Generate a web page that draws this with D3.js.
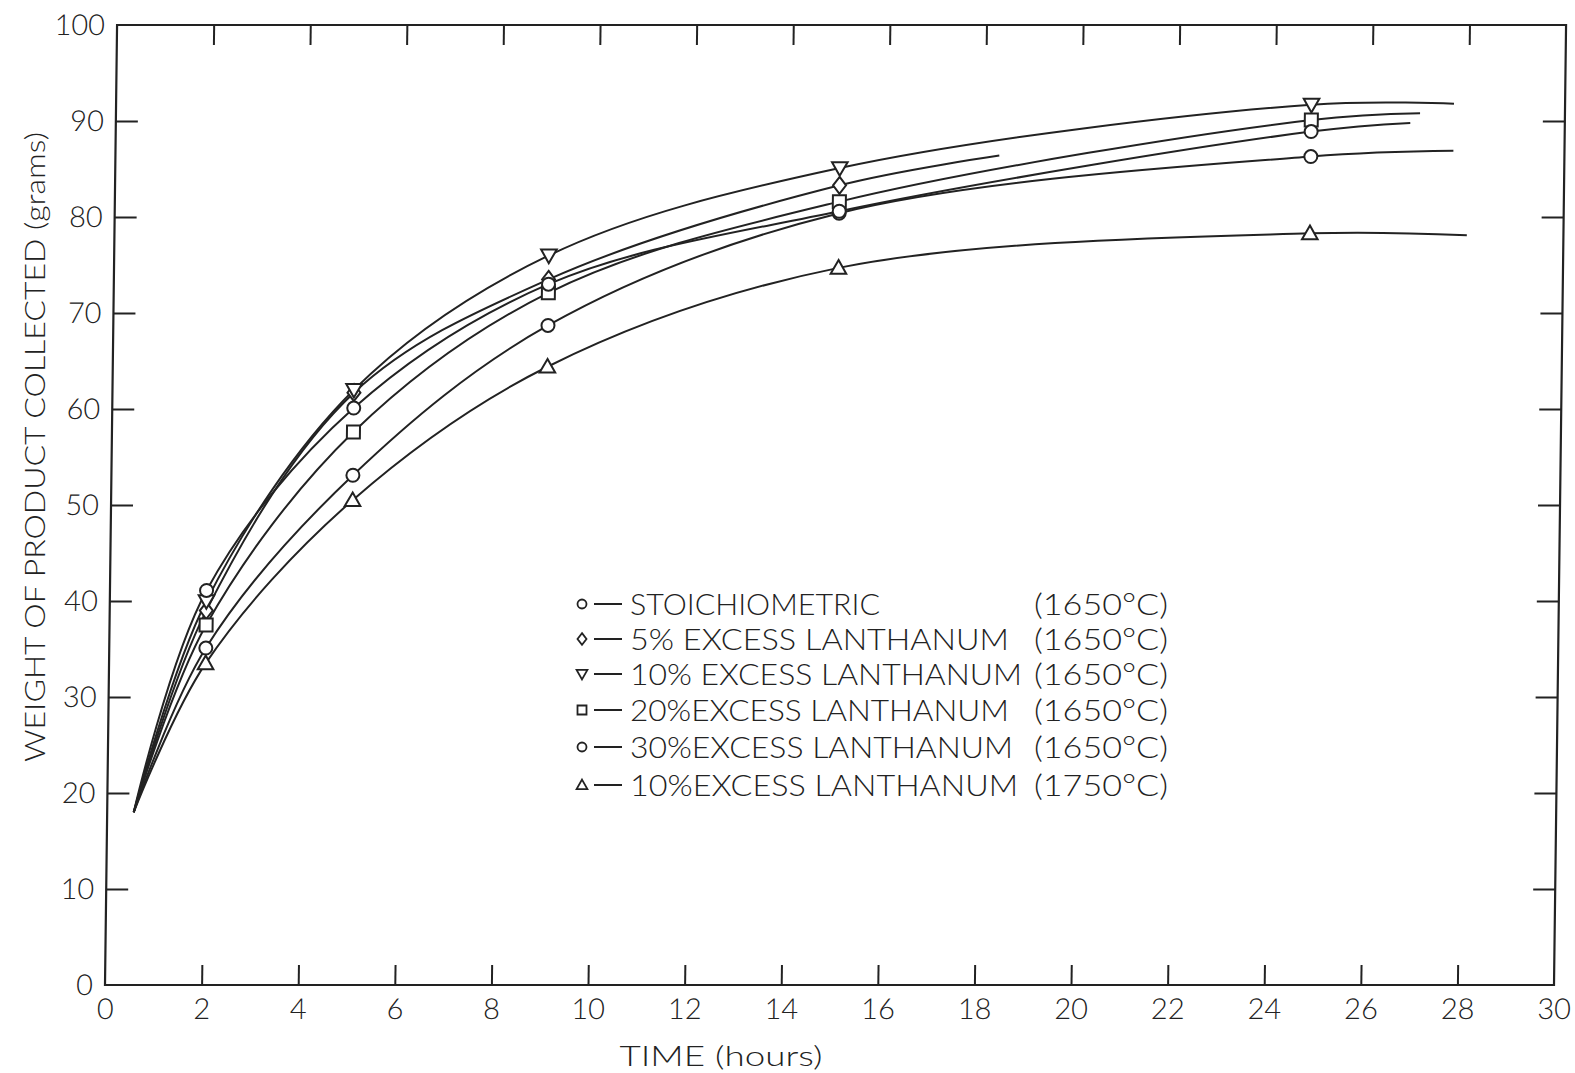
<!DOCTYPE html>
<html>
<head>
<meta charset="utf-8">
<script src="https://cdn.jsdelivr.net/npm/d3@7"></script>
<style>
  body { margin: 0; background: #fff; }
  svg { display: block; }
  text { font-family: Lato, "Open Sans", sans-serif; font-weight: 300; fill: #222; }
</style>
</head>
<body>
<script>
// time of each sample (hours)
var times = [2, 5, 9, 15, 24.75];

var seriesNames = ["STOICHIOMETRIC", "5% EXCESS LANTHANUM", "10% EXCESS LANTHANUM",
                   "20%EXCESS LANTHANUM", "30%EXCESS LANTHANUM", "10%EXCESS LANTHANUM"];
var seriesTemps = ["(1650\u00b0C)", "(1650\u00b0C)", "(1650\u00b0C)", "(1650\u00b0C)", "(1650\u00b0C)", "(1750\u00b0C)"];
var seriesSymbols = ["circle", "diamond", "tridown", "square", "circle", "triangle"];

// weight collected (grams) at each time; null = no point
var stoich   = [35.1, 53.1, 68.7, 80.4, 86.3];
var excess5  = [39.0, 61.7, 73.5, 83.3, null];
var excess10 = [40.0, 62.0, 76.0, 85.1, 91.7];
var excess20 = [37.5, 57.6, 72.1, 81.6, 90.1];
var excess30 = [41.1, 60.1, 73.0, 80.6, 88.9];
var excess10hot = [33.5, 50.5, 64.4, 74.7, 78.3];

// fitted curves: common start and read end point of each curve
var curveStart = [0.55, 18];
var curveEnds = [[27.7, 86.9], [18.3, 86.4], [27.7, 91.8], [27.0, 90.8], [26.8, 89.8], [28.0, 78.1]];

var xTicks = d3.range(0, 31, 2);
var yTicks = d3.range(0, 101, 10);

var allSeries = [stoich, excess5, excess10, excess20, excess30, excess10hot];

var width = 1575, height = 1073;
var pLeft = 105, pRight = 1554, pTop = 25, pBottom = 985;

var svg = d3.select("body").append("svg")
    .attr("width", width).attr("height", height);

var x = d3.scaleLinear().domain([0, 30]).range([pLeft, pRight]);
var y = d3.scaleLinear().domain([0, 100]).range([pBottom, pTop]);

// the scanned frame leans a little; shear the plot to follow it
var plot = svg.append("g")
    .attr("transform", "translate(0," + pBottom + ") skewX(-0.72) translate(0," + (-pBottom) + ")");

var ink = "#222";

plot.append("rect")
    .attr("x", pLeft).attr("y", pTop)
    .attr("width", pRight - pLeft).attr("height", pBottom - pTop)
    .attr("fill", "none").attr("stroke", ink).attr("stroke-width", 2.2);

var xAxis = plot.append("g")
    .attr("transform", "translate(0," + pBottom + ")")
    .call(d3.axisBottom(x).tickValues(xTicks).tickSize(-20).tickSizeOuter(0).tickPadding(13)
      .tickFormat(function(d) { return d; }));
var xTop = plot.append("g")
    .attr("transform", "translate(0," + pTop + ")")
    .call(d3.axisTop(x).tickValues(xTicks.slice(1, -1)).tickSize(-20).tickSizeOuter(0).tickFormat(""));
var yAxis = plot.append("g")
    .attr("transform", "translate(" + pLeft + ",0)")
    .call(d3.axisLeft(y).tickValues(yTicks).tickSize(-22).tickSizeOuter(0).tickPadding(12));
var yRight = plot.append("g")
    .attr("transform", "translate(" + pRight + ",0)")
    .call(d3.axisRight(y).tickValues(yTicks.slice(1, -1)).tickSize(-22).tickSizeOuter(0).tickFormat(""));

[xAxis, xTop, yAxis, yRight].forEach(function(a) {
  a.select(".domain").remove();
  a.selectAll(".tick line").attr("stroke", ink).attr("stroke-width", 2);
  a.selectAll(".tick text").attr("font-size", 29).attr("fill", ink)
    .attr("font-family", "Lato, 'Open Sans', sans-serif").attr("font-weight", 300);
});
// the 0 ticks sit on the frame corner
xAxis.selectAll(".tick line").filter(function(d) { return d == 0 || d == 30; }).remove();
yAxis.selectAll(".tick line").filter(function(d) { return d == 0 || d == 100; }).remove();

var line = d3.line()
    .x(function(d) { return x(d[0]); })
    .y(function(d) { return y(d[1]); })
    .curve(d3.curveCatmullRom.alpha(0.5));

allSeries.forEach(function(vals, i) {
  var pts = [curveStart];
  for (var j = 0; j < times.length; j++) {
    if (vals[j] != null) pts.push([times[j], vals[j]]);
  }
  pts.push(curveEnds[i]);
  plot.append("path")
    .attr("d", line(pts))
    .attr("fill", "none").attr("stroke", ink).attr("stroke-width", 2);
});

function symbolPath(kind, s) {
  if (kind == "circle") return d3.symbol(d3.symbolCircle, Math.PI * s * s / 4)();
  if (kind == "square") return "M" + (-s/2) + "," + (-s/2) + "h" + s + "v" + s + "h" + (-s) + "Z";
  if (kind == "diamond") return "M0," + (-s*0.65) + "L" + (s*0.5) + ",0L0," + (s*0.65) + "L" + (-s*0.5) + ",0Z";
  if (kind == "triangle") return "M0," + (-s*0.6) + "L" + (s*0.6) + "," + (s*0.45) + "L" + (-s*0.6) + "," + (s*0.45) + "Z";
  if (kind == "tridown") return "M0," + (s*0.6) + "L" + (s*0.6) + "," + (-s*0.45) + "L" + (-s*0.6) + "," + (-s*0.45) + "Z";
}

allSeries.forEach(function(vals, i) {
  var pts = [];
  for (var j = 0; j < times.length; j++) {
    if (vals[j] != null) pts.push([times[j], vals[j]]);
  }
  plot.selectAll(".m" + i).data(pts).enter().append("path")
    .attr("class", "m" + i)
    .attr("transform", function(d) { return "translate(" + x(d[0]) + "," + y(d[1]) + ")"; })
    .attr("d", symbolPath(seriesSymbols[i], 13))
    .attr("fill", "#fff").attr("stroke", ink).attr("stroke-width", 2);
});

// legend
var legendRows = [615, 650, 685, 721, 758, 796];
var nameWidths = [250, 379, 392, 379, 383, 388];
var legend = svg.append("g");
seriesNames.forEach(function(name, i) {
  var ry = legendRows[i];
  legend.append("path")
    .attr("transform", "translate(582," + (ry - 11) + ")")
    .attr("d", symbolPath(seriesSymbols[i], 9))
    .attr("fill", "#fff").attr("stroke", ink).attr("stroke-width", 1.8);
  legend.append("line")
    .attr("x1", 594).attr("x2", 622).attr("y1", ry - 11).attr("y2", ry - 11)
    .attr("stroke", ink).attr("stroke-width", 2);
  legend.append("text")
    .attr("x", 630).attr("y", ry)
    .attr("font-size", 29)
    .attr("textLength", nameWidths[i])
    .attr("lengthAdjust", "spacingAndGlyphs")
    .text(name);
  legend.append("text")
    .attr("x", 1034).attr("y", ry)
    .attr("font-size", 29)
    .attr("textLength", 134)
    .attr("lengthAdjust", "spacingAndGlyphs")
    .text(seriesTemps[i]);
});

svg.append("text")
    .attr("transform", "translate(45,447) rotate(-90)")
    .attr("text-anchor", "middle")
    .attr("font-size", 27)
    .attr("textLength", 630)
    .attr("lengthAdjust", "spacingAndGlyphs")
    .text("WEIGHT OF PRODUCT COLLECTED (grams)");

svg.append("text")
    .attr("x", 721).attr("y", 1066)
    .attr("text-anchor", "middle")
    .attr("font-size", 27)
    .attr("textLength", 203)
    .attr("lengthAdjust", "spacingAndGlyphs")
    .text("TIME  (hours)");
</script>
</body>
</html>
